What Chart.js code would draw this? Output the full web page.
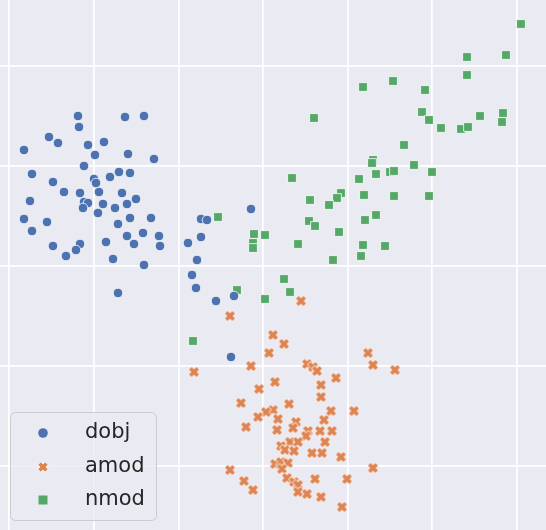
<!DOCTYPE html>
<html>
<head>
<meta charset="utf-8">
<script src="https://cdn.jsdelivr.net/npm/chart.js@4/dist/chart.umd.min.js"></script>
<style>
  html, body { margin: 0; padding: 0; background: #fff; }
  #wrap { width: 546px; height: 530px; position: relative; }
</style>
</head>
<body>
<div id="wrap"><canvas id="plot"></canvas></div>
<script>
// points (x right, y up)
var dobjX = [78,79,125,144,49,58,24,88,104,95,128,154,84,32,53,94,96,110,119,130,64,80,99,122,136,30,84,88,83,103,127,115,24,47,98,130,151,118,32,127,143,159,53,80,76,106,134,160,66,113,144,118,201,207,251,201,188,197,192,196,216,234,231];
var dobjY = [414,403,413,414,393,387,380,385,388,375,376,371,364,356,348,351,347,353,358,357,338,337,338,337,331,329,328,327,322,326,326,322,311,308,317,312,312,306,299,294,297,294,284,286,280,288,286,284,274,271,265,237,311,310,321,293,287,270,255,242,229,234,173];

var amodX = [301,230,273,284,269,194,251,307,313,317,368,373,395,336,275,259,321,321,241,289,273,266,258,278,331,354,324,296,246,277,293,308,320,332,306,325,290,298,281,285,294,312,322,341,275,281,288,282,230,373,287,294,298,315,347,244,253,298,307,321,342];
var amodY = [229,214,195,186,177,158,164,166,163,159,177,165,160,152,148,141,145,133,127,126,120,118,113,111,119,119,110,108,103,100,102,99,99,99,94,88,88,88,84,80,79,77,77,73,66,68,67,61,60,62,52,48,45,51,51,49,40,38,36,33,23];

var nmodX = [521,467,506,467,363,393,425,314,422,429,441,461,468,480,503,502,404,373,372,414,376,390,394,432,359,292,341,337,364,394,429,310,329,376,365,309,315,339,218,254,265,253,253,298,363,385,361,333,284,290,237,265,193];
var nmodY = [506,473,475,455,443,449,440,412,418,410,402,401,403,414,417,408,385,370,367,365,356,358,359,358,351,352,337,332,335,334,334,330,325,315,310,309,304,298,313,296,295,287,282,286,285,284,274,270,251,238,240,231,189];

var labels = ['dobj', 'amod', 'nmod'];
var xTicks = [9, 94, 179, 263, 348, 432, 517];
var yTicks = [64, 164, 264, 364, 464];

function pts(xs, ys) {
  return xs.map(function (x, i) { return { x: x, y: ys[i] }; });
}

// filled "X" marker like matplotlib's
function makeX(color, half) {
  var c = document.createElement('canvas');
  var n = Math.ceil(half * 2 + 3);
  c.width = n; c.height = n;
  var g = c.getContext('2d');
  var a = 0.4;
  var p = [[-1,-a],[-a,-a],[-a,-1],[a,-1],[a,-a],[1,-a],[1,a],[a,a],[a,1],[-a,1],[-a,a],[-1,a]];
  g.translate(n / 2, n / 2);
  g.rotate(Math.PI / 4);
  g.beginPath();
  p.forEach(function (v, i) {
    if (i === 0) g.moveTo(v[0] * half, v[1] * half);
    else g.lineTo(v[0] * half, v[1] * half);
  });
  g.closePath();
  g.fillStyle = color;
  g.fill();
  g.strokeStyle = '#ffffff';
  g.lineWidth = 0.8;
  g.stroke();
  return c;
}

var blue = '#4C72B0', orange = '#DD8452', green = '#55A868';
var xMark = makeX(orange, 5.6);
var xMarkLeg = makeX(orange, 5.2);

var bgPlugin = {
  id: 'bg',
  beforeDraw: function (chart) {
    var a = chart.chartArea, ctx = chart.ctx;
    ctx.save();
    ctx.fillStyle = '#EAEAF2';
    ctx.fillRect(a.left, a.top, a.right - a.left, a.bottom - a.top);
    ctx.restore();
  }
};

var legendPlugin = {
  id: 'insetLegend',
  afterDraw: function (chart) {
    var ctx = chart.ctx;
    ctx.save();
    ctx.beginPath();
    ctx.roundRect(10.5, 412.5, 146, 108, 5);
    ctx.fillStyle = 'rgba(234,234,242,0.8)';
    ctx.fill();
    ctx.strokeStyle = '#cccccc';
    ctx.lineWidth = 1;
    ctx.stroke();
    var rows = [433, 467, 500];
    chart.data.datasets.forEach(function (ds, i) {
      var y = rows[i];
      ctx.fillStyle = ds.backgroundColor;
      if (i === 0) {
        ctx.beginPath();
        ctx.arc(43, y, 4.8, 0, Math.PI * 2);
        ctx.fill();
      } else if (i === 1) {
        ctx.drawImage(xMarkLeg, 43 - xMarkLeg.width / 2, y - xMarkLeg.height / 2);
      } else {
        ctx.fillRect(38.5, y - 4.5, 9, 9);
      }
      ctx.fillStyle = '#262626';
      ctx.font = '21px "DejaVu Sans"';
      ctx.textBaseline = 'middle';
      ctx.fillText(ds.label, 85, y);
    });
    ctx.restore();
  }
};

function gridAxis(ticks, max, horizontal) {
  return {
    type: 'linear',
    min: 0,
    max: max,
    border: { display: false },
    grid: { color: '#ffffff', lineWidth: 1.7, drawTicks: false },
    ticks: { display: false },
    afterBuildTicks: function (s) { s.ticks = ticks.map(function (v) { return { value: v }; }); },
    afterFit: function (s) { if (horizontal) s.height = 0; else s.width = 0; }
  };
}

new Chart(document.getElementById('plot'), {
  type: 'scatter',
  data: {
    datasets: [
      { label: labels[0], data: pts(dobjX, dobjY), backgroundColor: blue, borderColor: '#ffffff',
        borderWidth: 0.8, pointStyle: 'circle', pointRadius: 4.8 },
      { label: labels[1], data: pts(amodX, amodY), backgroundColor: orange, borderColor: '#ffffff',
        borderWidth: 0.8, pointStyle: xMark, pointRadius: 5 },
      { label: labels[2], data: pts(nmodX, nmodY), backgroundColor: green, borderColor: '#ffffff',
        borderWidth: 0.8, pointStyle: 'rect', pointRadius: 6.2 }
    ]
  },
  options: {
    responsive: true,
    maintainAspectRatio: false,
    animation: false,
    layout: { padding: 0, autoPadding: false },
    plugins: { legend: { display: false }, tooltip: { enabled: false } },
    scales: {
      x: gridAxis(xTicks, 546, true),
      y: gridAxis(yTicks, 530, false)
    }
  },
  plugins: [bgPlugin, legendPlugin]
});
</script>
</body>
</html>
